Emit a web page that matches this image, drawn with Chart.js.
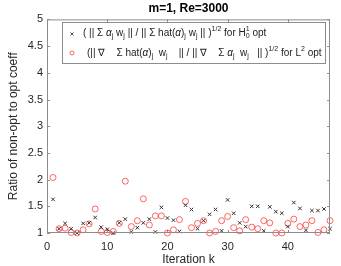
<!DOCTYPE html>
<html>
<head>
<meta charset="utf-8">
<script src="https://cdn.jsdelivr.net/npm/chart.js@4/dist/chart.umd.min.js"></script>
<style>
  html, body { margin: 0; padding: 0; background: #fff; }
  #wrap { width: 341px; height: 266px; }
</style>
</head>
<body>
<div id="wrap"><canvas id="ratio-chart"></canvas></div>
<script>
const iterations = [1, 2, 3, 4, 5, 6, 7, 8, 9, 10, 11, 12, 13, 14, 15, 16, 17, 18, 19, 20,
    21, 22, 23, 24, 25, 26, 27, 28, 29, 30, 31, 32, 33, 34, 35, 36, 37, 38, 39, 40,
    41, 42, 43, 44, 45, 46, 47]

// black crosses, H^1_0 optimal
const ratioH1 = [1.63, 1.08, 1.18, 1.08, 1.00, 1.18, 1.19, 1.29, 1.11, 1.07,
    1.00, 1.19, 1.26, 1.02, 1.10, 1.19, 1.26, 1.02, 1.48, 1.28,
    1.24, 1.03, 1.52, 1.44, 1.08, 1.23, 1.35, 1.44, 1.04, 1.62,
    1.37, 1.19, 1.12, 1.50, 1.50, 1.04, 1.49, 1.40, 1.37, 1.12,
    1.57, 1.46, 1.05, 1.42, 1.42, 1.45, 1.08]

// red circles, L^2 optimal
const ratioL2 = [2.04, 1.08, 1.09, 1.01, 1.00, 1.06, 1.17, 1.45, 1.03, 1.01,
    1.03, 1.18, 1.97, 1.12, 1.23, 1.64, 1.15, 1.32, 1.32, 1.00,
    1.06, 1.25, 1.59, 1.10, 1.18, 1.23, 1.00, 1.03, 1.23, 1.31,
    1.10, 1.04, 1.25, 1.11, 1.08, 1.23, 1.19, 1.00, 1.00, 1.18,
    1.26, 1.12, 1.15, 1.23, 1.01, 1.06, 1.23]

const xTicks = [0, 10, 20, 30, 40]
const yTicks = [1, 1.5, 2, 2.5, 3, 3.5, 4, 4.5, 5]

// legend text pieces: n = normal, i = italic, sub, sup, subsup
const legendH1 = [
    ['n', '( || \u03A3 '], ['i', '\u03B1'], ['sub', 'j'], ['n', ' w'], ['sub', 'j'],
    ['n', ' || / || \u03A3 hat('], ['i', '\u03B1'], ['n', ')'], ['sub', 'j'], ['n', ' w'], ['sub', 'j'],
    ['n', ' || )'], ['sup', '1/2'], ['n', ' for H'], ['subsup', '0', '1'], ['n', ' opt'],
]
const legendL2 = [
    ['n', '(|| \u2207    \u03A3 hat('], ['i', '\u03B1'], ['n', ')'], ['sub', 'j'], ['n', '  w'], ['sub', 'j'],
    ['n', '    || / || \u2207    \u03A3 '], ['i', '\u03B1'], ['sub', 'j'], ['n', '  w'], ['sub', 'j'],
    ['n', '   || )'], ['sup', '1/2'], ['n', ' for L'], ['sup', '2'], ['n', ' opt'],
]

const FONT = '"Liberation Sans", Arial, sans-serif'
const toPoints = (ys) => iterations.map((k, i) => ({ x: k, y: ys[i] }))

// draws pieces with sub/superscripts
function drawRich(ctx, pieces, x, y) {
    const base = '10px ' + FONT
    const ital = 'italic 10px ' + FONT
    const small = '7px ' + FONT
    let cx = x
    pieces.forEach(p => {
        if (p[0] === 'n' || p[0] === 'i') {
            ctx.font = p[0] === 'i' ? ital : base
            ctx.fillText(p[1], cx, y)
            cx += ctx.measureText(p[1]).width
        } else if (p[0] === 'sub') {
            ctx.font = small
            ctx.fillText(p[1], cx, y + 3)
            cx += ctx.measureText(p[1]).width
        } else if (p[0] === 'sup') {
            ctx.font = small
            ctx.fillText(p[1], cx, y - 4)
            cx += ctx.measureText(p[1]).width
        } else {
            ctx.font = small
            ctx.fillText(p[1], cx, y + 3)
            ctx.fillText(p[2], cx, y - 4)
            cx += Math.max(ctx.measureText(p[1]).width, ctx.measureText(p[2]).width)
        }
    })
}

const matlabBox = {
    id: 'matlabBox',
    afterDraw(chart) {
        const { ctx, chartArea: a, scales } = chart
        ctx.save()
        ctx.strokeStyle = '#8c8c8c'
        ctx.lineWidth = 1
        ctx.strokeRect(a.left + 0.5, a.top + 0.5, a.right - a.left - 1, a.bottom - a.top - 1)
        // inward ticks
        ctx.beginPath()
        xTicks.forEach(v => {
            const px = Math.round(scales.x.getPixelForValue(v)) + 0.5
            ctx.moveTo(px, a.bottom); ctx.lineTo(px, a.bottom - 3)
            ctx.moveTo(px, a.top); ctx.lineTo(px, a.top + 3)
        })
        yTicks.forEach(v => {
            const py = Math.round(scales.y.getPixelForValue(v)) + 0.5
            ctx.moveTo(a.left, py); ctx.lineTo(a.left + 3, py)
            ctx.moveTo(a.right, py); ctx.lineTo(a.right - 3, py)
        })
        ctx.stroke()

        // legend
        const bx = 62, by = 22, bw = 263, bh = 41
        ctx.fillStyle = '#fff'
        ctx.fillRect(bx, by, bw, bh)
        ctx.strokeStyle = '#8c8c8c'
        ctx.strokeRect(bx + 0.5, by + 0.5, bw, bh)

        ctx.strokeStyle = '#555'
        ctx.beginPath()
        ctx.moveTo(70.5, 32.5); ctx.lineTo(73.5, 35.5)
        ctx.moveTo(73.5, 32.5); ctx.lineTo(70.5, 35.5)
        ctx.stroke()
        ctx.strokeStyle = 'rgba(255, 0, 0, 0.6)'
        ctx.beginPath()
        ctx.arc(72, 53, 2, 0, Math.PI * 2)
        ctx.stroke()

        ctx.fillStyle = '#222'
        ctx.textBaseline = 'middle'
        drawRich(ctx, legendH1, 83, 33)
        drawRich(ctx, legendL2, 87, 53)
        ctx.restore()
    }
}

const ratioData = {
    datasets: [
        {
            label: 'H1 opt',
            data: toPoints(ratioH1),
            pointStyle: 'crossRot',
            pointRadius: 2.5,
            borderColor: '#333',
            borderWidth: 1,
            showLine: false,
            clip: false,
        },
        {
            label: 'L2 opt',
            data: toPoints(ratioL2),
            pointStyle: 'circle',
            pointRadius: 3,
            backgroundColor: 'rgba(0,0,0,0)',
            borderColor: 'rgba(255, 0, 0, 0.6)',
            borderWidth: 1,
            showLine: false,
            clip: false,
        },
    ],
}

const ratioConfig = {
    type: 'scatter',
    data: ratioData,
    options: {
        responsive: true,
        maintainAspectRatio: false,
        animation: false,
        layout: { padding: { left: 0, right: 11, top: 0, bottom: 0 } },
        plugins: {
            legend: { display: false },
            tooltip: { enabled: false },
            title: {
                display: true,
                text: 'm=1, Re=3000',
                fullSize: false,
                color: '#000',
                font: { family: FONT, size: 12, weight: 'bold' },
                padding: { top: 1, bottom: 4 },
            },
        },
        scales: {
            x: {
                type: 'linear',
                min: 0,
                max: 47,
                grid: { display: false, drawTicks: false },
                border: { display: false },
                afterFit: (s) => { s.height = 33 },
                afterBuildTicks: (s) => { s.ticks = xTicks.map(v => ({ value: v })) },
                ticks: { color: '#262626', padding: 7, font: { family: FONT, size: 11 } },
                title: {
                    display: true,
                    text: 'Iteration k',
                    color: '#262626',
                    font: { family: FONT, size: 12 },
                    padding: { top: 0, bottom: -1 },
                },
            },
            y: {
                type: 'linear',
                min: 1,
                max: 5,
                grid: { display: false, drawTicks: false },
                border: { display: false },
                afterFit: (s) => { s.width = 47 },
                afterBuildTicks: (s) => { s.ticks = yTicks.map(v => ({ value: v })) },
                ticks: {
                    color: '#262626',
                    padding: 4,
                    font: { family: FONT, size: 11 },
                    callback: (v) => String(v),
                },
                title: {
                    display: true,
                    text: 'Ratio of non-opt to opt coeff',
                    color: '#262626',
                    font: { family: FONT, size: 12 },
                    padding: { top: 6, bottom: 0 },
                },
            },
        },
    },
    plugins: [matlabBox],
}

const ctx = document.getElementById('ratio-chart')
const ratioChart = new Chart(ctx, ratioConfig)
</script>
</body>
</html>
